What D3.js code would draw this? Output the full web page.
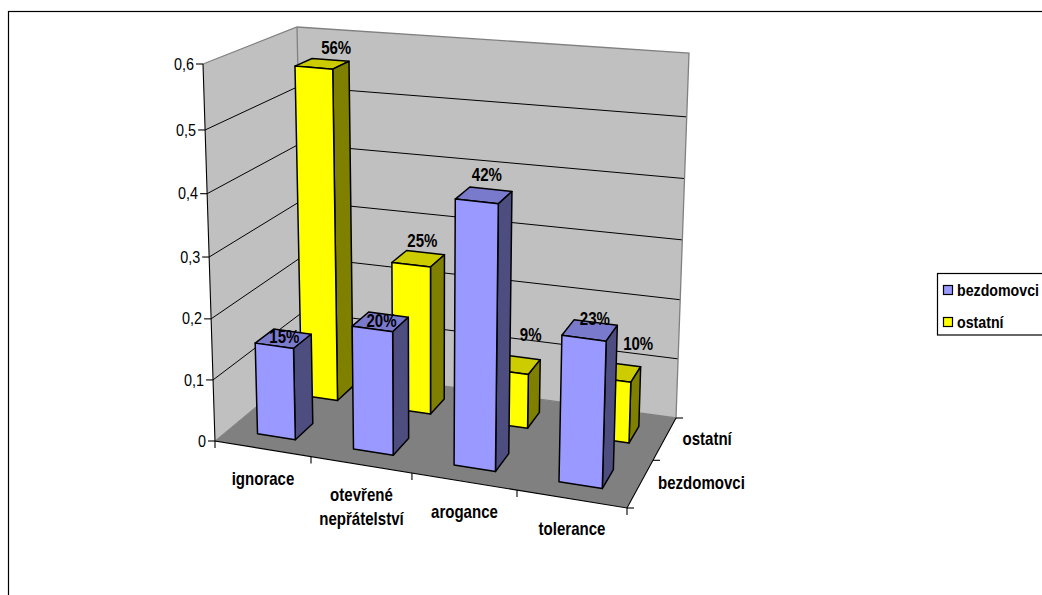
<!DOCTYPE html>
<html><head><meta charset="utf-8">
<script src="https://cdnjs.cloudflare.com/ajax/libs/d3/7.8.5/d3.min.js"></script>
<style>html,body{margin:0;padding:0;background:#fff;overflow:hidden}svg{display:block}text{font-family:"Liberation Sans",Arial,sans-serif;fill:#000}</style>
</head><body><svg id="c" width="1042" height="595"></svg>
<script>
// ---------- data ----------
const categories = ["ignorace", "otevřené nepřátelství", "arogance", "tolerance"];
const seriesNames = ["bezdomovci", "ostatní"];
const bezdomovci = [0.15, 0.20, 0.42, 0.23];
const ostatni = [0.56, 0.25, 0.09, 0.10];
const valueTicks = [0, 0.1, 0.2, 0.3, 0.4, 0.5, 0.6];
const valueTickLabels = ["0", "0,1", "0,2", "0,3", "0,4", "0,5", "0,6"];

// ---------- layout ----------
const corners = {
  lb0:[215,441], rb0:[627,508], lb1:[304,367], rb1:[676,418],
  lt0:[203,64],  rt0:[639,105], lt1:[297,27],  rt1:[689,53]
};
const colors = [
  {front:"#9999ff", side:"#4d4d80", top:"#7a7acc"},
  {front:"#ffff00", side:"#808000", top:"#cccc00"}
];
const labelShift = [[[1,-2],[1,-1],[3,-20],[5,-12]],[[14,-16],[4,-18],[16,-30],[23,-28]]];

const xS = d3.scaleLinear().domain([0,1,2,3,4]).range([0,.233,.478,.733,1]);
const dS = d3.scaleLinear().domain([0,1,2]).range([0,.53,1]);
const vS = d3.scaleLinear().domain(valueTicks).range([0,.162,.324,.488,.656,.825,1]);
const mix = (a,b,t)=>[a[0]+(b[0]-a[0])*t, a[1]+(b[1]-a[1])*t];
function P(x,d,v){
  const tx=xS(x), td=dS(d), tv=vS(v), c=corners;
  const b0=mix(c.lb0,c.rb0,tx), b1=mix(c.lb1,c.rb1,tx);
  const t0=mix(c.lt0,c.rt0,tx), t1=mix(c.lt1,c.rt1,tx);
  return mix(mix(b0,b1,td), mix(t0,t1,td), tv);
}
const svg = d3.select("#c");
const line = d3.line();
const poly = pts => line(pts)+"Z";
// narrow, tall text as in the reference
function label(x,y,s,opt){
  const o=Object.assign({size:17.5,sx:.86,anchor:"start",weight:"bold"},opt||{});
  return svg.append("text").attr("transform",`translate(${x},${y}) scale(${o.sx},1)`)
    .attr("dy","0.35em").attr("text-anchor",o.anchor).attr("font-size",o.size).attr("font-weight",o.weight).text(s);
}

// frame
svg.append("rect").attr("x",8.5).attr("y",11.5).attr("width",1100).attr("height",700)
  .attr("fill","#fff").attr("stroke","#000").attr("stroke-width",1.2);

// walls and floor
const Vmax=0.6;
svg.append("path").attr("d",poly([P(0,0,0),P(0,2,0),P(0,2,Vmax),P(0,0,Vmax)])).attr("fill","#c0c0c0");
svg.append("path").attr("d",poly([P(0,2,0),P(4,2,0),P(4,2,Vmax),P(0,2,Vmax)])).attr("fill","#c0c0c0");
svg.append("path").attr("d",poly([P(0,0,0),P(4,0,0),P(4,2,0),P(0,2,0)])).attr("fill","#808080");

// gridlines
valueTicks.slice(1,-1).forEach(v=>{
  svg.append("path").attr("d",line([P(0,0,v),P(0,2,v),P(4,2,v)])).attr("fill","none").attr("stroke","#000").attr("stroke-width",1);
});
// grey wall edges
svg.append("path").attr("d",line([P(0,0,Vmax),P(0,2,Vmax),P(4,2,Vmax),P(4,2,0),P(0,2,0)])).attr("fill","none").attr("stroke","#808080").attr("stroke-width",1.3);
svg.append("path").attr("d",line([P(0,2,0),P(0,2,Vmax)])).attr("fill","none").attr("stroke","#808080").attr("stroke-width",1.3);
svg.append("path").attr("d",line([P(0,0,0),P(0,2,0)])).attr("fill","none").attr("stroke","#808080").attr("stroke-width",1);

// axes
const axis = svg.append("g").attr("fill","none").attr("stroke","#000").attr("stroke-width",1.1);
axis.append("path").attr("d",line([P(0,0,Vmax),P(0,0,0),P(4,0,0),P(4,2,0)]));
valueTicks.forEach(v=>{const p=P(0,0,v);axis.append("path").attr("d",line([p,[p[0]-7,p[1]]]));});
d3.range(0,5).forEach(i=>{const p=P(i,0,0);axis.append("path").attr("d",line([p,[p[0],p[1]+7]]));});
d3.range(0,3).forEach(i=>{const p=P(4,i,0);axis.append("path").attr("d",line([p,[p[0]+7,p[1]]]));});

valueTicks.forEach((v,i)=>{const p=P(0,0,v);
  label(p[0]-9,p[1],valueTickLabels[i],{size:16,sx:.9,anchor:"end",weight:"normal"});});
categories.forEach((c,i)=>{const p=P(i+.5,0,0);
  const words = c.indexOf(" ")>0 ? c.split(" ") : [c];
  words.forEach((w,j)=>label(p[0],p[1]+30+24*j,w,{anchor:"middle"}));});
seriesNames.forEach((s,i)=>{const p=P(4,i+.5,0); label(p[0]+18,p[1]-1+i,s);});

// bars, back row first
const series=[bezdomovci,ostatni];
const g=svg.append("g").attr("stroke","#000").attr("stroke-width",1.5).attr("stroke-linejoin","round");
[1,0].forEach(s=>{
  series[s].forEach((v,i)=>{
    const x0=i+.3,x1=i+.7,d0=s+.3,d1=s+.7,col=colors[s];
    g.append("path").attr("fill",col.top).attr("d",poly([P(x0,d0,v),P(x1,d0,v),P(x1,d1,v),P(x0,d1,v)]));
    g.append("path").attr("fill",col.side).attr("d",poly([P(x1,d0,0),P(x1,d1,0),P(x1,d1,v),P(x1,d0,v)]));
    g.append("path").attr("fill",col.front).attr("d",poly([P(x0,d0,0),P(x1,d0,0),P(x1,d0,v),P(x0,d0,v)]));
  });
});
// data labels
[1,0].forEach(s=>{
  series[s].forEach((v,i)=>{
    const p=P(i+.5,s+.5,v), o=labelShift[s][i];
    label(p[0]+o[0],p[1]+o[1],d3.format(".0%")(v),{anchor:"middle"});
  });
});

// legend
const lg=svg.append("g");
lg.append("rect").attr("x",937.5).attr("y",273.5).attr("width",120).attr("height",61.5).attr("fill","#fff").attr("stroke","#000").attr("stroke-width",1.2);
seriesNames.forEach((s,i)=>{
  const y=285+32*i;
  lg.append("rect").attr("x",943.5).attr("y",y+.5).attr("width",9).attr("height",9).attr("fill",colors[i].front).attr("stroke","#000").attr("stroke-width",1.2);
  label(957,y+5,s,{size:17,sx:.835});
});
</script></body></html>
